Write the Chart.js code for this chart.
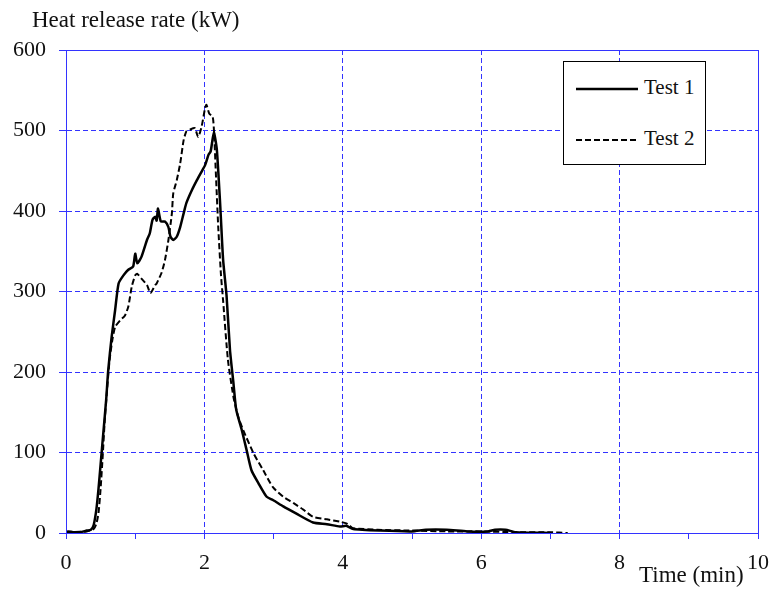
<!DOCTYPE html>
<html lang="en">
<head>
    <meta charset="UTF-8">
    <script src="https://cdn.jsdelivr.net/npm/chart.js"></script>
    <style>
        body {
            margin: 0;
            background: #fff;
            font-family: 'Liberation Serif', 'Times New Roman', serif;
        }
        .wrap {
            position: relative;
            width: 772px;
            height: 592px;
        }
        .ytitle {
            position: absolute;
            left: 32px;
            top: 7px;
            font-size: 23px;
            line-height: 26px;
            color: #111;
            white-space: nowrap;
        }
        .xtitle {
            position: absolute;
            left: 639px;
            top: 562px;
            font-size: 23px;
            line-height: 26px;
            color: #111;
            white-space: nowrap;
        }
        .legend {
            position: absolute;
            left: 563px;
            top: 61px;
            width: 141px;
            height: 102px;
            border: 1px solid #000;
            background: #fff;
        }
        .legend .row {
            position: absolute;
            left: 12px;
            height: 24px;
            font-size: 21px;
            line-height: 24px;
            color: #111;
            white-space: nowrap;
        }
        .legend svg {
            vertical-align: middle;
            margin-right: 6px;
        }
    </style>
</head>
<body>
    <div class="wrap">
        <canvas id="hrrChart" width="772" height="592"></canvas>
        <div class="ytitle">Heat release rate (kW)</div>
        <div class="xtitle">Time (min)</div>
        <div class="legend">
            <div class="row" style="top: 13px;"><svg width="62" height="4"><line x1="0" y1="2" x2="62" y2="2" stroke="#000" stroke-width="2.5"/></svg>Test 1</div>
            <div class="row" style="top: 64px;"><svg width="62" height="4"><line x1="0" y1="2" x2="62" y2="2" stroke="#000" stroke-width="2" stroke-dasharray="6,3"/></svg>Test 2</div>
        </div>
    </div>
    <script>
        // Test 1 (solid)
        const time1 = [0, 0.03, 0.1, 0.2, 0.3, 0.36, 0.4, 0.44, 0.47, 0.5, 0.54, 0.58, 0.61, 0.66, 0.71, 0.76, 0.83, 0.9, 0.97,
            1.0, 1.03, 1.09, 1.17, 1.21, 1.25, 1.29, 1.31, 1.33, 1.37, 1.43, 1.48, 1.51, 1.55, 1.6, 1.65, 1.7, 1.74, 1.82, 1.89,
            1.96, 2.01, 2.06, 2.09, 2.12, 2.14, 2.18, 2.23, 2.27, 2.32, 2.37, 2.42, 2.46, 2.54, 2.61, 2.68, 2.78, 2.9, 2.99,
            3.14, 3.33, 3.57, 3.77, 3.96, 4.05, 4.15, 4.54, 5.0, 5.2, 5.5, 5.8, 6.1, 6.2, 6.35, 6.5, 7.0];
        const hrr1 = [0, 2, 1, 1, 3, 4, 10, 30, 55, 85, 125, 165, 202, 244, 277, 310, 320, 327, 331,
            347, 335, 343, 364, 372, 389, 393, 388, 403, 387, 387, 380, 368, 364, 368, 380, 397, 410, 426, 438,
            449, 457, 470, 474, 490, 497, 476, 405, 340, 295, 227, 186, 153, 128, 103, 78, 62, 45, 41,
            33, 24, 13, 11, 8, 9, 5, 3, 2, 4, 4, 2, 2, 4, 4, 1, 0];

        // Test 2 (dashed)
        const time2 = [0, 0.1, 0.3, 0.4, 0.44, 0.47, 0.5, 0.53, 0.56, 0.6, 0.63, 0.67, 0.71, 0.78, 0.85, 0.9, 0.95, 1.0, 1.03,
            1.09, 1.17, 1.22, 1.29, 1.31, 1.38, 1.43, 1.48, 1.53, 1.55, 1.6, 1.65, 1.7, 1.74, 1.79, 1.86, 1.91, 1.96, 2.01,
            2.03, 2.07, 2.12, 2.14, 2.17, 2.2, 2.24, 2.27, 2.34, 2.42, 2.49, 2.56, 2.71, 2.85, 2.99, 3.14, 3.29, 3.43, 3.57,
            3.77, 3.96, 4.05, 4.1, 4.15, 4.5, 5.0, 5.5, 6.0, 6.5, 7.0, 7.25];
        const hrr2 = [0, 1, 2, 5, 12, 25, 55, 95, 140, 185, 215, 240, 256, 264, 270, 281, 306, 320, 322,
            316, 308, 298, 308, 310, 323, 339, 364, 397, 422, 438, 459, 488, 499, 501, 503, 492, 505, 528,
            532, 521, 517, 497, 438, 380, 320, 289, 215, 169, 144, 128, 99, 78, 57, 45, 37, 29, 20,
            17, 14, 12, 9, 6, 4, 3, 2, 2, 1, 1, 0];

        const xTicks = [0, 2, 4, 6, 8, 10];
        const yTicks = [0, 100, 200, 300, 400, 500, 600];

        const gridBlue = 'rgb(51, 51, 255)';

        const toPoints = (xs, ys) => xs.map((x, i) => ({ x: x, y: ys[i] }));

        // solid frame round the plot area
        const framePlugin = {
            id: 'frame',
            afterDraw(chart) {
                const { ctx, chartArea: a } = chart;
                ctx.save();
                ctx.strokeStyle = gridBlue;
                ctx.lineWidth = 1;
                ctx.strokeRect(Math.round(a.left) + 0.5, Math.round(a.top) + 0.5,
                    Math.round(a.right - a.left), Math.round(a.bottom - a.top));
                ctx.restore();
            }
        };

        new Chart(document.getElementById('hrrChart'), {
            type: 'line',
            data: {
                datasets: [{
                    label: 'Test 1',
                    data: toPoints(time1, hrr1),
                    borderColor: '#000',
                    borderWidth: 2.5,
                    pointRadius: 0,
                    tension: 0.2
                }, {
                    label: 'Test 2',
                    data: toPoints(time2, hrr2),
                    borderColor: '#000',
                    borderWidth: 2,
                    borderDash: [6, 3],
                    pointRadius: 0,
                    tension: 0.2
                }]
            },
            options: {
                responsive: false,
                animation: false,
                layout: { padding: { top: 50, right: 14, left: 0, bottom: 0 } },
                plugins: {
                    legend: { display: false },
                    tooltip: { enabled: false }
                },
                scales: {
                    x: {
                        type: 'linear',
                        min: 0,
                        max: 10,
                        afterFit: (scale) => {
                            scale.height = 59;
                            scale.paddingLeft = 0;
                            scale.paddingRight = 0;
                        },
                        ticks: {
                            stepSize: 1,
                            autoSkip: false,
                            maxRotation: 0,
                            padding: 11,
                            color: '#111',
                            font: { family: 'Liberation Serif', size: 22 },
                            callback: (v) => xTicks.includes(v) ? String(v) : ''
                        },
                        grid: {
                            color: (c) => xTicks.includes(c.tick.value) ? gridBlue : 'rgba(0,0,0,0)',
                            tickColor: gridBlue,
                            tickLength: 6,
                            lineWidth: 1
                        },
                        border: { color: gridBlue, dash: [5, 3] }
                    },
                    y: {
                        min: 0,
                        max: 600,
                        afterFit: (scale) => {
                            scale.width = 66;
                            scale.paddingTop = 0;
                            scale.paddingBottom = 0;
                        },
                        ticks: {
                            stepSize: 100,
                            padding: 13,
                            color: '#111',
                            font: { family: 'Liberation Serif', size: 22 },
                            callback: (v) => yTicks.includes(v) ? String(v) : ''
                        },
                        grid: {
                            color: gridBlue,
                            tickColor: gridBlue,
                            tickLength: 7,
                            lineWidth: 1
                        },
                        border: { color: gridBlue, dash: [5, 3] }
                    }
                }
            },
            plugins: [framePlugin]
        });
    </script>
</body>
</html>
